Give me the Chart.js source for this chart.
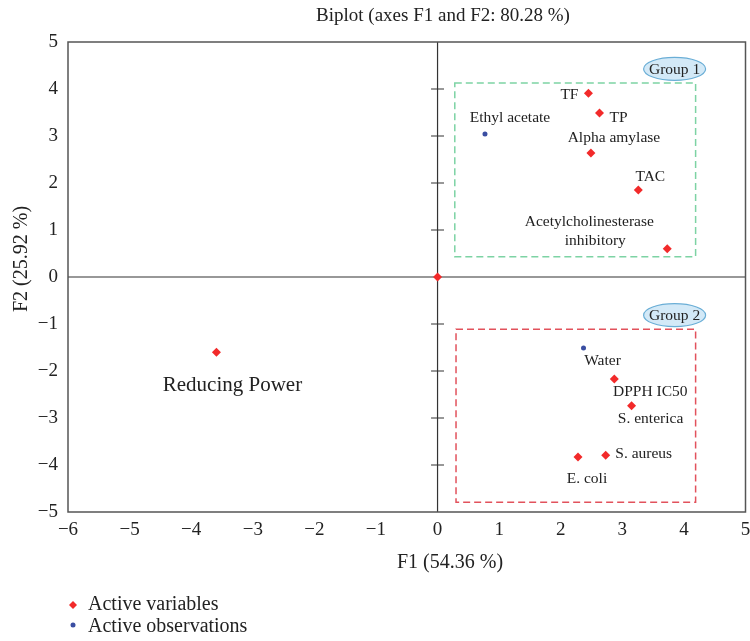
<!DOCTYPE html>
<html>
<head>
<meta charset="utf-8">
<script src="https://cdn.jsdelivr.net/npm/chart.js@4.4.1/dist/chart.umd.min.js"></script>
<style>
  html, body { margin: 0; padding: 0; background: #fff; }
</style>
</head>
<body>
<canvas id="biplot" width="750" height="641"></canvas>
<script>
// active variables (red diamonds)
var varNames = ['', 'TF', 'TP', 'Alpha amylase', 'TAC', 'Acetylcholinesterase|inhibitory',
                'Reducing Power', 'DPPH IC50', 'S. enterica', 'S. aureus', 'E. coli'];
var varF1 = [0, 2.45, 2.63, 2.49, 3.26, 3.73, -3.59, 2.87, 3.15, 2.73, 2.28];
var varF2 = [0, 3.91, 3.49, 2.64, 1.85, 0.60, -1.60, -2.17, -2.74, -3.79, -3.83];

// active observations (blue dots)
var obsNames = ['Ethyl acetate', 'Water'];
var obsF1 = [0.77, 2.37];
var obsF2 = [3.04, -1.51];

// group boxes in F1/F2 units
var groupNames = ['Group 1', 'Group 2'];
var groupF1 = [[0.28, 4.19], [0.30, 4.19]];
var groupF2 = [[0.43, 4.13], [-4.79, -1.11]];

var FONT = '"Liberation Serif", "DejaVu Serif", serif';

// label placement relative to the marker, in pixels
var labelOffset = {
  'TF': [-19, 2], 'TP': [19, 5], 'Alpha amylase': [23, -15], 'TAC': [12, -13],
  'Acetylcholinesterase|inhibitory': [-78, -27], 'Reducing Power': [16, 33],
  'DPPH IC50': [36, 13], 'S. enterica': [19, 13], 'S. aureus': [38, -1],
  'E. coli': [9, 22], 'Ethyl acetate': [25, -16], 'Water': [19, 13]
};

function toPoints(xs, ys) {
  var pts = [];
  for (var i = 0; i < xs.length; i++) pts.push({x: xs[i], y: ys[i]});
  return pts;
}

var decorPlugin = {
  id: 'decor',
  beforeDatasetsDraw: function(chart) {
    var ctx = chart.ctx, a = chart.chartArea;
    var sx = chart.scales.x, sy = chart.scales.y;
    var x0 = sx.getPixelForValue(0), y0 = sy.getPixelForValue(0);
    ctx.save();
    // zero lines
    ctx.strokeStyle = '#333';
    ctx.lineWidth = 1.2;
    ctx.beginPath();
    ctx.moveTo(a.left, y0); ctx.lineTo(a.right, y0);
    ctx.moveTo(x0, a.top); ctx.lineTo(x0, a.bottom);
    sy.ticks.forEach(function(t) {
      if (t.value === 0 || t.value === 5 || t.value === -5) return;
      var py = sy.getPixelForValue(t.value);
      ctx.moveTo(x0 - 6.5, py); ctx.lineTo(x0 + 6.5, py);
    });
    ctx.stroke();
    // frame
    ctx.strokeStyle = '#555';
    ctx.lineWidth = 1.5;
    ctx.strokeRect(a.left, a.top, a.right - a.left, a.bottom - a.top);

    // group boxes
    var boxColors = ['#7dd3a4', '#e2525c'];
    for (var g = 0; g < groupNames.length; g++) {
      var l = sx.getPixelForValue(groupF1[g][0]), r = sx.getPixelForValue(groupF1[g][1]);
      var t = sy.getPixelForValue(groupF2[g][1]), b = sy.getPixelForValue(groupF2[g][0]);
      ctx.strokeStyle = boxColors[g];
      ctx.lineWidth = 1.5;
      ctx.setLineDash([7, 4]);
      ctx.strokeRect(l, t, r - l, b - t);
      ctx.setLineDash([]);
      // ellipse tag
      var cx = r - 21, cy = t - 14;
      ctx.beginPath();
      ctx.ellipse(cx, cy, 31, 11.5, 0, 0, Math.PI * 2);
      ctx.fillStyle = '#d3e9f7';
      ctx.fill();
      ctx.strokeStyle = '#6aaed6';
      ctx.lineWidth = 1.2;
      ctx.stroke();
      ctx.fillStyle = '#222';
      ctx.font = '15.5px ' + FONT;
      ctx.textAlign = 'center';
      ctx.textBaseline = 'middle';
      ctx.fillText(groupNames[g], cx, cy + 1);
    }
    ctx.restore();
  },
  afterDatasetsDraw: function(chart) {
    var ctx = chart.ctx;
    ctx.save();
    ctx.fillStyle = '#222';
    ctx.textAlign = 'center';
    ctx.textBaseline = 'middle';
    [[0, varNames], [1, obsNames]].forEach(function(pair) {
      var meta = chart.getDatasetMeta(pair[0]);
      pair[1].forEach(function(name, i) {
        if (!name) return;
        var el = meta.data[i], off = labelOffset[name] || [0, 12];
        ctx.font = (name === 'Reducing Power' ? '21px ' : '15.5px ') + FONT;
        var lines = name.split('|');
        lines.forEach(function(line, k) {
          var dx = off[0] + (k > 0 ? 6 : 0);
          ctx.fillText(line, el.x + dx, el.y + off[1] + k * 19);
        });
      });
    });
    ctx.restore();
  },
  afterDraw: function(chart) {
    var ctx = chart.ctx;
    ctx.save();
    ctx.fillStyle = '#222';
    ctx.textAlign = 'center';
    ctx.textBaseline = 'middle';
    ctx.font = '19px ' + FONT;
    ctx.fillText('Biplot (axes F1 and F2: 80.28 %)', 443, 16);
    ctx.font = '20px ' + FONT;
    ctx.fillText('F1 (54.36 %)', 450, 563);
    ctx.save();
    ctx.translate(22, 259);
    ctx.rotate(-Math.PI / 2);
    ctx.fillText('F2 (25.92 %)', 0, 0);
    ctx.restore();
    // legend
    var items = [[chart.data.datasets[0], 'Active variables', 605],
                 [chart.data.datasets[1], 'Active observations', 627]];
    ctx.textAlign = 'left';
    ctx.font = '20px ' + FONT;
    items.forEach(function(it) {
      var ds = it[0], y = it[2];
      ctx.fillStyle = ds.backgroundColor;
      ctx.beginPath();
      if (ds.pointStyle === 'rectRot') {
        ctx.moveTo(73, y - 4); ctx.lineTo(77, y); ctx.lineTo(73, y + 4); ctx.lineTo(69, y);
      } else {
        ctx.arc(73, y - 2, 2.5, 0, Math.PI * 2);
      }
      ctx.fill();
      ctx.fillStyle = '#222';
      ctx.fillText(it[1], 88, y);
    });
    ctx.restore();
  }
};

function minusTick(v) {
  return String(v).replace('-', '\u2212');
}

new Chart(document.getElementById('biplot'), {
  type: 'scatter',
  data: {
    datasets: [{
      label: 'Active variables',
      data: toPoints(varF1, varF2),
      pointStyle: 'rectRot',
      pointRadius: 4.5,
      backgroundColor: '#f22a2a',
      borderColor: '#f22a2a',
      borderWidth: 0
    }, {
      label: 'Active observations',
      data: toPoints(obsF1, obsF2),
      pointStyle: 'circle',
      pointRadius: 2.5,
      backgroundColor: '#3a4ea2',
      borderColor: '#3a4ea2',
      borderWidth: 0
    }]
  },
  options: {
    responsive: false,
    animation: false,
    layout: { padding: { top: 42, right: 3, left: 0, bottom: 0 } },
    plugins: { legend: { display: false }, tooltip: { enabled: false } },
    scales: {
      x: {
        type: 'linear', min: -6, max: 5,
        grid: { display: false, drawTicks: false },
        border: { display: false },
        ticks: { stepSize: 1, padding: 7, color: '#222', font: { family: FONT, size: 19 }, callback: minusTick },
        afterFit: function(s) { s.height = 129; s.paddingLeft = 0; s.paddingRight = 0; }
      },
      y: {
        type: 'linear', min: -5, max: 5,
        grid: { display: false, drawTicks: false },
        border: { display: false },
        ticks: { stepSize: 1, padding: 10, color: '#222', font: { family: FONT, size: 19 }, callback: minusTick },
        afterFit: function(s) { s.width = 68; s.paddingTop = 0; s.paddingBottom = 0; }
      }
    }
  },
  plugins: [decorPlugin]
});
</script>
</body>
</html>
